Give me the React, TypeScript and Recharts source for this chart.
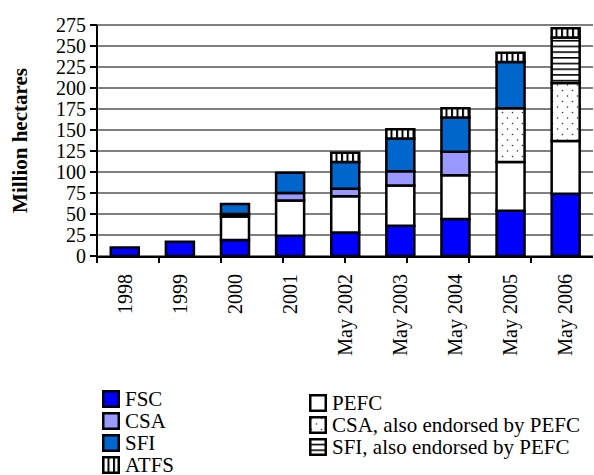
import { BarChart, Bar, XAxis, YAxis, CartesianGrid } from 'recharts';

const years = ['1998', '1999', '2000', '2001', 'May 2002', 'May 2003', 'May 2004', 'May 2005', 'May 2006'];
const fsc = [10, 17, 19, 24, 28, 36, 44, 54, 74];
const pefc = [null, null, 28, 42, 43, 48, 52, 58, 63];
const csa = [null, null, 3, 9, 9, 17, 28, null, null];
const csaPefc = [null, null, null, null, null, null, null, 64, 69];
const sfi = [null, null, 12, 24, 32, 39, 41, 55, null];
const sfiPefc = [null, null, null, null, null, null, null, null, 54];
const atfs = [null, null, null, null, 11, 11, 11, 11, 11];

const yTicks = [0, 25, 50, 75, 100, 125, 150, 175, 200, 225, 250, 275];
const edgeTicks = [0, 1, 2, 3, 4, 5, 6, 7, 8, 9];

const FONT = '"Liberation Serif", "Times New Roman", serif';

const series = [
  { key: 'FSC', name: 'FSC', values: fsc, fill: '#0000FF', col: 0 },
  { key: 'PEFC', name: 'PEFC', values: pefc, fill: '#FFFFFF', col: 1 },
  { key: 'CSA', name: 'CSA', values: csa, fill: '#9999FF', col: 0 },
  { key: 'CSAPEFC', name: 'CSA, also endorsed by PEFC', values: csaPefc, fill: 'url(#dots)', col: 1 },
  { key: 'SFI', name: 'SFI', values: sfi, fill: '#0066CC', col: 0 },
  { key: 'SFIPEFC', name: 'SFI, also endorsed by PEFC', values: sfiPefc, fill: 'url(#hlines)', col: 1 },
  { key: 'ATFS', name: 'ATFS', values: atfs, fill: 'url(#vlines)', col: 0 },
];

const data = years.map((year, i) => {
  const row: Record<string, any> = { year };
  series.forEach((s) => (row[s.key] = s.values[i]));
  return row;
});

const XTick = ({ x, y, payload }: any) => (
  <text
    x={x}
    y={y}
    transform={`rotate(-90 ${x} ${y})`}
    textAnchor="end"
    dy="0.35em"
    fontSize={20}
    fontFamily={FONT}
    fill="#000"
  >
    {payload.value}
  </text>
);

const YLabel = ({ viewBox }: any) => {
  const cx = viewBox.x + 20;
  const cy = viewBox.y + viewBox.height / 2;
  return (
    <text
      x={cx}
      y={cy}
      transform={`rotate(-90 ${cx} ${cy})`}
      textAnchor="middle"
      dy="0.35em"
      fontSize={21}
      fontWeight="bold"
      fontFamily={FONT}
      fill="#000"
    >
      Million hectares
    </text>
  );
};

function Patterns() {
  return (
    <svg width={0} height={0} style={{ position: 'absolute' }}>
      <defs>
        <pattern id="vlines" patternUnits="userSpaceOnUse" width={5.5} height={10}>
          <rect width={5.5} height={10} fill="#fff" />
          <rect x={0} width={2} height={10} fill="#000" />
        </pattern>
        <pattern id="hlines" patternUnits="userSpaceOnUse" width={10} height={5.7}>
          <rect width={10} height={5.7} fill="#fff" />
          <rect y={0} width={10} height={1.6} fill="#000" />
        </pattern>
        <pattern id="dots" patternUnits="userSpaceOnUse" width={10} height={11}>
          <rect width={10} height={11} fill="#fff" />
          <circle cx={2.5} cy={2.5} r={0.8} fill="#333" />
          <circle cx={7.5} cy={8} r={0.8} fill="#333" />
        </pattern>
      </defs>
    </svg>
  );
}

function Swatch({ fill }: { fill: string }) {
  return (
    <svg width={18} height={18} style={{ flex: 'none' }}>
      <rect x={1.25} y={1.25} width={15.5} height={15.5} fill={fill} stroke="#000" strokeWidth={2.5} />
    </svg>
  );
}

const rowStyle = {
  position: 'absolute' as const,
  height: 20,
  display: 'flex',
  alignItems: 'center',
  fontFamily: FONT,
  fontSize: 21,
  lineHeight: '20px',
  color: '#000',
  whiteSpace: 'nowrap' as const,
};

export default function App() {
  const left = series.filter((s) => s.col === 0);
  const right = series.filter((s) => s.col === 1);
  return (
    <div style={{ position: 'absolute', left: 0, top: 0, width: 594, height: 475, background: '#fff' }}>
      <Patterns />
      <BarChart
        width={594}
        height={370}
        data={data}
        margin={{ top: 25, right: 1, left: 0, bottom: 112 }}
        barCategoryGap="25%"
      >
        <CartesianGrid vertical={false} stroke="#000" strokeWidth={1} />
        <XAxis
          xAxisId="edge"
          type="number"
          domain={[0, 9]}
          ticks={edgeTicks}
          allowDataOverflow
          height={1}
          tick={() => <g />}
          tickSize={6}
          tickLine={{ stroke: '#000', strokeWidth: 2 }}
          stroke="#000"
          strokeWidth={2}
        />
        <XAxis
          xAxisId="cat"
          dataKey="year"
          height={1}
          axisLine={false}
          tickLine={false}
          tickSize={0}
          tickMargin={18}
          interval={0}
          tick={<XTick />}
        />
        <YAxis
          width={97}
          domain={[0, 275]}
          ticks={yTicks}
          interval={0}
          tickSize={7}
          tickMargin={4}
          stroke="#000"
          strokeWidth={2}
          tick={{ fontSize: 20, fill: '#000', fontFamily: FONT }}
          label={(props: any) => <YLabel {...props} />}
        />
        {series.map((s) => (
          <Bar
            key={s.key}
            xAxisId="cat"
            dataKey={s.key}
            name={s.name}
            stackId="a"
            fill={s.fill}
            stroke="#000"
            strokeWidth={2.5}
            isAnimationActive={false}
          />
        ))}
      </BarChart>
      {left.map((s, i) => (
        <div key={s.key} style={{ ...rowStyle, left: 102, top: 388.5 + i * 22 }}>
          <Swatch fill={s.fill} />
          <span style={{ marginLeft: 5 }}>{s.name}</span>
        </div>
      ))}
      {right.map((s, i) => (
        <div key={s.key} style={{ ...rowStyle, left: 309, top: 393 + i * 22 }}>
          <Swatch fill={s.fill} />
          <span style={{ marginLeft: 5 }}>{s.name}</span>
        </div>
      ))}
    </div>
  );
}
